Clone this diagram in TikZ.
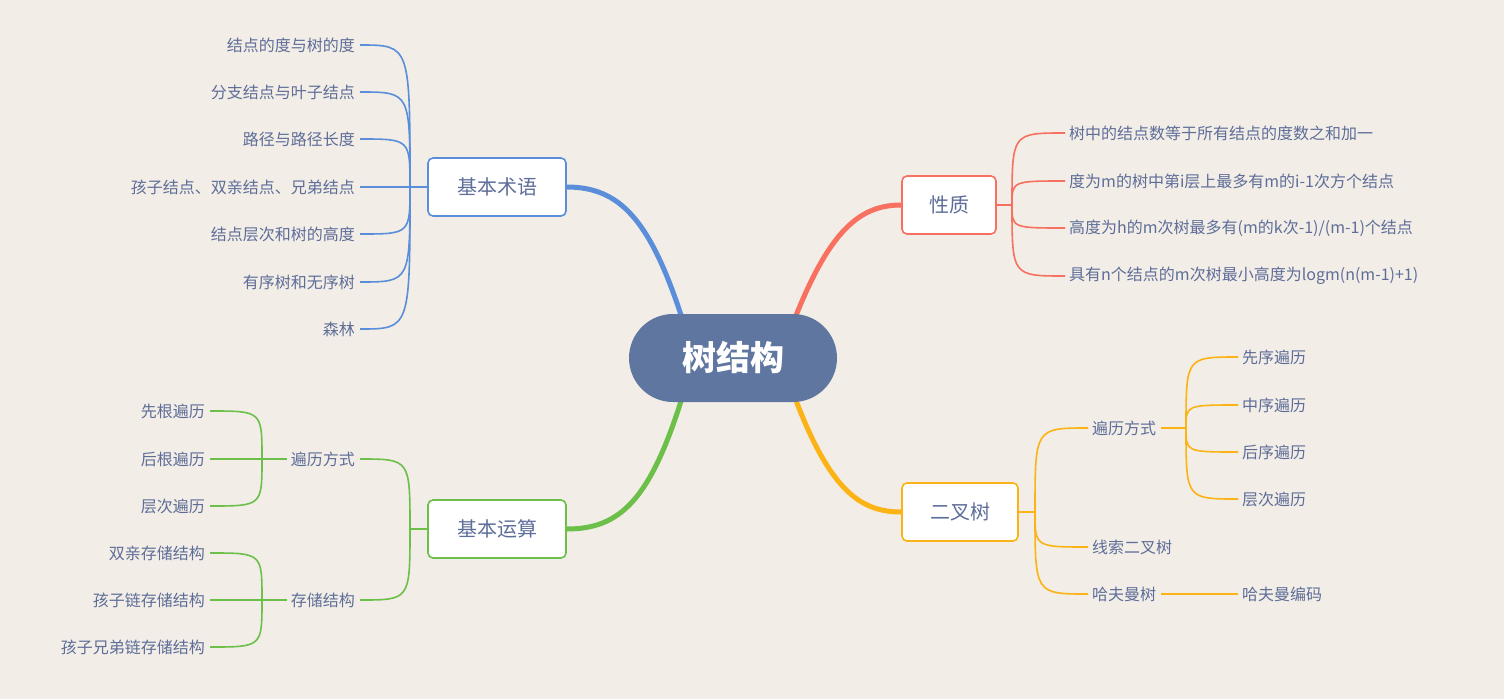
\documentclass[tikz,border=0pt]{standalone}
\usepackage{fontspec}
\setmainfont{Noto Sans CJK SC}
\begin{document}
\begin{tikzpicture}[x=1pt,y=-1pt,
  txt/.style={text=tcol,font=\fontsize{16}{18}\selectfont,inner sep=0pt},
  lt/.style={txt,anchor=east},
  rt/.style={txt,anchor=west},
  box/.style={draw=#1,line width=1.6pt,fill=white,rounded corners=5pt,text=tcol,font=\fontsize{20}{22}\selectfont,minimum height=58pt},
  br/.style={draw=#1,line width=1.6pt},
  thick/.style={draw=#1,line width=5pt}]
\definecolor{bg}{HTML}{F2EDE6}
\definecolor{tcol}{HTML}{5E6E99}
\definecolor{cb}{HTML}{5A8EDA}
\definecolor{cr}{HTML}{F87060}
\definecolor{co}{HTML}{FBB315}
\definecolor{cg}{HTML}{6CC04A}
\definecolor{cc}{HTML}{5F77A0}
\fill[bg] (0,0) rectangle (1504,699);
\useasboundingbox (0,0) rectangle (1504,699);
% thick connectors
\coordinate (cbs) at (682,318); \coordinate (crs) at (795,318);
\coordinate (cgs) at (682,398); \coordinate (cos) at (795,398);
\node[box=cb,minimum width=138pt] (A) at (497,187) {基本术语};
\node[box=cr,minimum width=94pt] (B) at (949,205) {性质};
\node[box=cg,minimum width=138pt] (C) at (497,529) {基本运算};
\node[box=co,minimum width=116pt] (D) at (960,512) {二叉树};
\draw[thick=cb] (cbs) .. controls (650,220) and (620,187) .. (A.east);
\draw[thick=cr] (crs) .. controls (830,230) and (860,205) .. (B.west);
\draw[thick=cg] (cgs) .. controls (650,500) and (620,529) .. (C.east);
\draw[thick=co] (cos) .. controls (830,490) and (860,512) .. (D.west);
\node[fill=cc,rounded corners=44pt,minimum width=208pt,minimum height=88pt,text=white,font=\fontsize{34}{36}\selectfont\bfseries] (R) at (733,358) {树结构};
% 基本术语
\coordinate (aj) at (410,187);
\draw[br=cb] (A.west) -- (aj);
\foreach \t/\y [count=\i] in {{结点的度与树的度}/45,{分支结点与叶子结点}/92,{路径与路径长度}/139,{孩子结点、双亲结点、兄弟结点}/187,{结点层次和树的高度}/234,{有序树和无序树}/282,{森林}/329}{
  \node[lt] (a\i) at (355,\y) {\t};
  \draw[br=cb] (aj) .. controls (410,\y) .. ([xshift=5pt]a\i.east);
}
% 性质
\coordinate (bj) at (1012,205);
\draw[br=cr] (B.east) -- (bj);
\node[rt] (b1) at (1069,133) {树中的结点数等于所有结点的度数之和加一};
\node[rt] (b2) at (1069,181) {度为m的树中第i层上最多有m的i-1次方个结点};
\node[rt] (b3) at (1069,228) {高度为h的m次树最多有(m的k次-1)/(m-1)个结点};
\node[rt] (b4) at (1069,276) {具有n个结点的m次树最小高度为logm(n(m-1)+1)};
\foreach \i/\y in {1/133,2/181,3/228,4/276}{
  \draw[br=cr] (bj) .. controls (1012,\y) .. ([xshift=-4pt]b\i.west);
}
% 基本运算
\coordinate (cj) at (410,529);
\draw[br=cg] (C.west) -- (cj);
\node[lt] (c1) at (355,459) {遍历方式};
\node[lt] (c2) at (355,600) {存储结构};
\draw[br=cg] (cj) .. controls (410,459) .. ([xshift=5pt]c1.east);
\draw[br=cg] (cj) .. controls (410,600) .. ([xshift=5pt]c2.east);
\coordinate (c1j) at (262,459);
\draw[br=cg] ([xshift=-4pt]c1.west) -- (c1j);
\foreach \t/\y [count=\i] in {{先根遍历}/411,{后根遍历}/459,{层次遍历}/506}{
  \node[lt] (e\i) at (205,\y) {\t};
  \draw[br=cg] (c1j) .. controls (262,\y) .. ([xshift=5pt]e\i.east);
}
\coordinate (c2j) at (262,600);
\draw[br=cg] ([xshift=-4pt]c2.west) -- (c2j);
\foreach \t/\y [count=\i] in {{双亲存储结构}/553,{孩子链存储结构}/600,{孩子兄弟链存储结构}/647}{
  \node[lt] (f\i) at (205,\y) {\t};
  \draw[br=cg] (c2j) .. controls (262,\y) .. ([xshift=5pt]f\i.east);
}
% 二叉树
\coordinate (dj) at (1035,512);
\draw[br=co] (D.east) -- (dj);
\node[rt] (d1) at (1092,428) {遍历方式};
\node[rt] (d2) at (1092,547) {线索二叉树};
\node[rt] (d3) at (1092,594) {哈夫曼树};
\foreach \i/\y in {1/428,2/547,3/594}{
  \draw[br=co] (dj) .. controls (1035,\y) .. ([xshift=-4pt]d\i.west);
}
\coordinate (d1j) at (1186,428);
\draw[br=co] ([xshift=5pt]d1.east) -- (d1j);
\foreach \t/\y [count=\i] in {{先序遍历}/357,{中序遍历}/405,{后序遍历}/452,{层次遍历}/499}{
  \node[rt] (g\i) at (1242,\y) {\t};
  \draw[br=co] (d1j) .. controls (1186,\y) .. ([xshift=-4pt]g\i.west);
}
\node[rt] (h1) at (1242,594) {哈夫曼编码};
\draw[br=co] ([xshift=5pt]d3.east) -- ([xshift=-4pt]h1.west);
\end{tikzpicture}
\end{document}
